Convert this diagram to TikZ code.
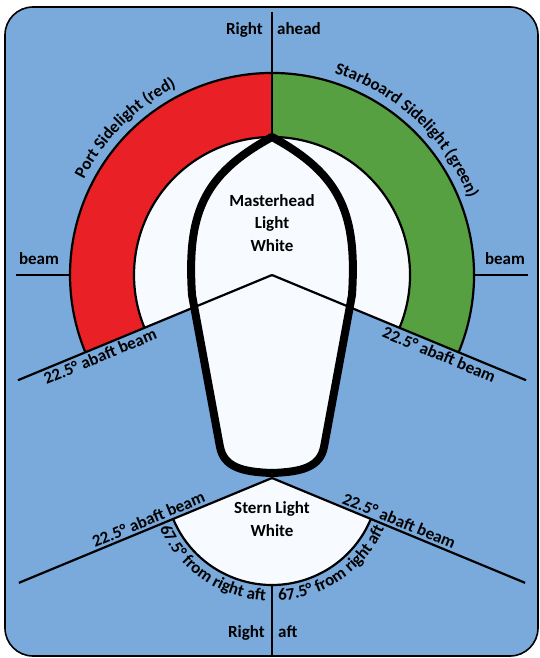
\documentclass[tikz,border=0pt]{standalone}
\usepackage{fontspec}
\setmainfont{Carlito}
\usepackage{xcolor}
\usepackage{tikz}
\usetikzlibrary{calc, decorations.text}

\definecolor{seablue}{HTML}{7AAADC}
\definecolor{portred}{HTML}{E92127}
\definecolor{stbdgreen}{HTML}{56A041}
\definecolor{lightwhite}{HTML}{F7FBFF}

\tikzset{
  lbl/.style={font=\bfseries\fontsize{17}{22.5}\selectfont, inner sep=0pt},
  sectorline/.style={line width=2.2pt},
  arclbl/.style={decorate, decoration={text along path, text align=center,
      text={|\bfseries\fontsize{17}{22.5}\selectfont|#1}}},
}

\begin{document}
\begin{tikzpicture}[x=1pt,y=1pt]
  \useasboundingbox (-272,-383) rectangle (267,275);

  % Light positions
  \coordinate (M) at (0,0);
  \coordinate (S) at (0,-203);
  \coordinate (T) at (0,263);
  \coordinate (B) at (0,-381);

  % Background
  \draw[line width=1.6pt, fill=seablue, rounded corners=28pt] (-267,-381) rectangle (266,268);

  % Sidelight sectors
  \fill[portred] (M) -- (90:202) arc[start angle=90, end angle=202.5, radius=202] -- cycle;
  \fill[stbdgreen] (M) -- (-22.5:202) arc[start angle=-22.5, end angle=90, radius=202] -- cycle;
  \fill[lightwhite] (M) -- (-22.5:138) arc[start angle=-22.5, end angle=202.5, radius=138] -- cycle;
  \draw[sectorline] (-22.5:202) arc[start angle=-22.5, end angle=202.5, radius=202];
  \draw[sectorline] (-22.5:138) arc[start angle=-22.5, end angle=202.5, radius=138];

  % Stern light sector
  \fill[lightwhite] (S) -- ($(S)+(202.5:107)$) arc[start angle=202.5, end angle=337.5, radius=107] -- cycle;
  \draw[sectorline] ($(S)+(202.5:107)$) arc[start angle=202.5, end angle=337.5, radius=107];

  % Hull
  \fill[lightwhite] (0,138) .. controls (-70,100) and (-85,60) .. (-80,-20) -- (-52,-172)
    .. controls (-48,-192) and (-30,-197) .. (0,-198) .. controls (30,-197) and (48,-192) .. (52,-172)
    -- (80,-20) .. controls (85,60) and (70,100) .. (0,138) -- cycle;

  % Sector limits
  \coordinate (P1) at (202.5:275);
  \coordinate (S1) at (-22.5:275);
  \coordinate (P2) at ($(S)+(202.5:274)$);
  \coordinate (S2) at ($(S)+(-22.5:274)$);
  \draw[sectorline] (T) -- (0,138);
  \draw[sectorline] (M) -- (P1);
  \draw[sectorline] (M) -- (S1);
  \draw[sectorline] (-202,0) -- (-256,0);
  \draw[sectorline] (202,0) -- (256,0);
  \draw[sectorline] (S) -- (P2);
  \draw[sectorline] (S) -- (S2);
  \draw[sectorline] (0,-310) -- (B);

  % Hull outline
  \draw[line width=8pt, line join=round] (0,138) .. controls (-70,100) and (-85,60) .. (-80,-20) -- (-52,-172)
    .. controls (-48,-192) and (-30,-197) .. (0,-198) .. controls (30,-197) and (48,-192) .. (52,-172)
    -- (80,-20) .. controls (85,60) and (70,100) .. (0,138) -- cycle;

  % Labels
  \node[lbl, anchor=base east] (ahead-l) at (-9,240) {Right};
  \node[lbl, anchor=base west] (ahead-r) at (5,240) {ahead};
  \node[lbl, anchor=base east] (aft-l) at (-7,-362) {Right};
  \node[lbl, anchor=base west] (aft-r) at (6,-362) {aft};
  \node[lbl, anchor=base] (beam-l) at (-233,10) {beam};
  \node[lbl, anchor=base] (beam-r) at (233,10) {beam};
  \node[lbl, align=center] (mast) at (0,52) {Masterhead\\Light\\White};
  \node[lbl, align=center] (stern) at (0,-244) {Stern Light\\White};

  % Sector labels
  \node[lbl, inner sep=3pt, rotate=22.5, anchor=north] (abaft-p) at (202.5:190) {22.5° abaft beam};
  \node[lbl, inner sep=3pt, rotate=-22.5, anchor=north] (abaft-s) at (-22.5:185) {22.5° abaft beam};
  \node[lbl, inner sep=3pt, rotate=22.5, anchor=south] (stern-p) at ($(S)+(202.5:130)$) {22.5° abaft beam};
  \node[lbl, inner sep=3pt, rotate=-22.5, anchor=south] (stern-s) at ($(S)+(-22.5:134)$) {22.5° abaft beam};
  \path[arclbl={Port Sidelight (red)}] (160:211) arc[start angle=160, end angle=110, radius=211];
  \path[arclbl={Starboard Sidelight (green)}] (80:211) arc[start angle=80, end angle=14, radius=211];
  \path[arclbl={67.5° from right aft}] ($(S)+(195:123)$) arc[start angle=195, end angle=276, radius=123];
  \path[arclbl={67.5° from right aft}] ($(S)+(264:123)$) arc[start angle=264, end angle=345, radius=123];
\end{tikzpicture}
\end{document}
